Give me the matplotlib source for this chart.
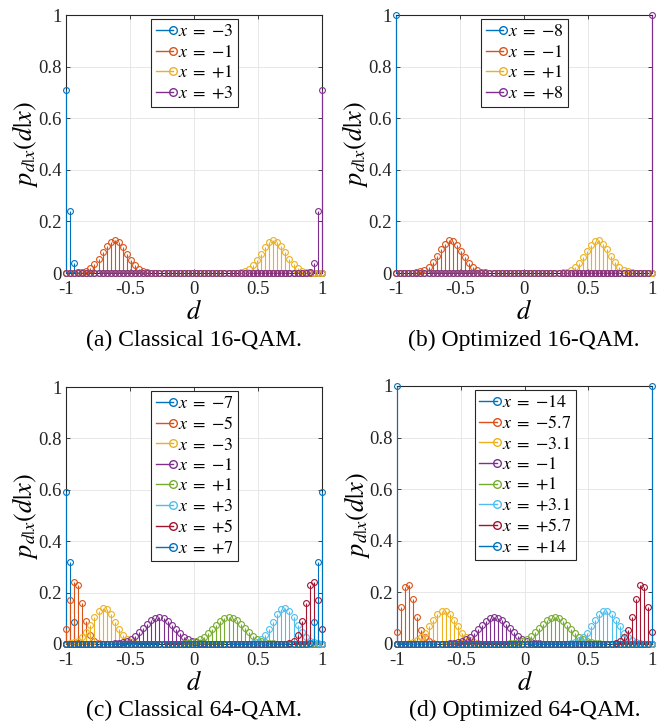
import numpy as np
import matplotlib
matplotlib.use("Agg")
import matplotlib.pyplot as plt
from matplotlib.lines import Line2D
from matplotlib.legend_handler import HandlerBase

plt.rcParams['font.family'] = ['Liberation Serif', 'DejaVu Serif']
plt.rcParams['mathtext.fontset'] = 'stix'

# quantized decision values d (64 levels on [-1, 1])
d = np.linspace(-1, 1, 64)

# (a) classical 16-QAM
a_labels = ['$x\\;=\\;{-3}$', '$x\\;=\\;{-1}$', '$x\\;=\\;{+1}$', '$x\\;=\\;{+3}$']
a_starts = [0, 3, 42, 60]
a_vals = [
    [0.71, 0.24, 0.04, 0.005],
    [0.002, 0.004, 0.009, 0.018, 0.034, 0.055, 0.080, 0.104, 0.121, 0.127,
     0.119, 0.099, 0.075, 0.050, 0.030, 0.016, 0.008, 0.003, 0.001],
    [0.001, 0.003, 0.008, 0.016, 0.030, 0.050, 0.075, 0.099, 0.119, 0.127,
     0.121, 0.104, 0.080, 0.055, 0.034, 0.018, 0.009, 0.004, 0.002],
    [0.005, 0.04, 0.24, 0.71],
]

# (b) optimized 16-QAM
b_labels = ['$x\\;=\\;{-8}$', '$x\\;=\\;{-1}$', '$x\\;=\\;{+1}$', '$x\\;=\\;{+8}$']
b_starts = [0, 4, 41, 63]
b_vals = [
    [1.0],
    [0.001, 0.003, 0.006, 0.013, 0.025, 0.043, 0.067, 0.092, 0.114, 0.126,
     0.125, 0.110, 0.087, 0.062, 0.039, 0.022, 0.011, 0.005, 0.002],
    [0.002, 0.005, 0.011, 0.022, 0.039, 0.062, 0.087, 0.110, 0.125, 0.126,
     0.114, 0.092, 0.067, 0.043, 0.025, 0.013, 0.006, 0.003, 0.001],
    [1.0],
]

# (c) classical 64-QAM
c_labels = ['$x\\;=\\;{-7}$', '$x\\;=\\;{-5}$', '$x\\;=\\;{-3}$', '$x\\;=\\;{-1}$',
            '$x\\;=\\;{+1}$', '$x\\;=\\;{+3}$', '$x\\;=\\;{+5}$', '$x\\;=\\;{+7}$']
c_starts = [0, 0, 0, 12, 29, 45, 55, 60]
c_vals = [
    [0.59, 0.32, 0.085, 0.005],
    [0.06, 0.17, 0.24, 0.23, 0.16, 0.09, 0.035, 0.012, 0.003],
    [0.001, 0.002, 0.006, 0.013, 0.027, 0.047, 0.075, 0.104, 0.128, 0.140,
     0.135, 0.115, 0.086, 0.058, 0.034, 0.018, 0.008, 0.003, 0.001],
    [0.002, 0.004, 0.007, 0.012, 0.020, 0.032, 0.046, 0.062, 0.079, 0.093,
     0.102, 0.105, 0.101, 0.090, 0.075, 0.059, 0.043, 0.029, 0.018, 0.011,
     0.006, 0.003, 0.002],
    [0.002, 0.003, 0.006, 0.011, 0.018, 0.029, 0.043, 0.059, 0.075, 0.090,
     0.101, 0.105, 0.102, 0.093, 0.079, 0.062, 0.046, 0.032, 0.020, 0.012,
     0.007, 0.004, 0.002],
    [0.001, 0.003, 0.008, 0.018, 0.034, 0.058, 0.086, 0.115, 0.135, 0.140,
     0.128, 0.104, 0.075, 0.047, 0.027, 0.013, 0.006, 0.002, 0.001],
    [0.003, 0.012, 0.035, 0.09, 0.16, 0.23, 0.24, 0.17, 0.06],
    [0.005, 0.085, 0.32, 0.59],
]

# (d) optimized 64-QAM
d_labels = ['$x\\;=\\;{-14}$', '$x\\;=\\;{-5.7}$', '$x\\;=\\;{-3.1}$',
            '$x\\;=\\;{-1}$', '$x\\;=\\;{+1}$', '$x\\;=\\;{+3.1}$',
            '$x\\;=\\;{+5.7}$', '$x\\;=\\;{+14}$']
d_starts = [0, 0, 2, 13, 28, 42, 54, 63]
d_vals = [
    [1.0],
    [0.047, 0.143, 0.222, 0.230, 0.174, 0.105, 0.055, 0.027, 0.010, 0.003],
    [0.001, 0.003, 0.007, 0.014, 0.026, 0.044, 0.068, 0.093, 0.115, 0.128,
     0.128, 0.115, 0.093, 0.068, 0.044, 0.026, 0.014, 0.007, 0.003, 0.001],
    [0.002, 0.003, 0.006, 0.011, 0.018, 0.029, 0.043, 0.059, 0.075, 0.090,
     0.101, 0.105, 0.102, 0.093, 0.079, 0.062, 0.046, 0.032, 0.020, 0.012,
     0.007, 0.004, 0.002],
    [0.002, 0.004, 0.007, 0.012, 0.020, 0.032, 0.046, 0.062, 0.079, 0.093,
     0.102, 0.105, 0.101, 0.090, 0.075, 0.059, 0.043, 0.029, 0.018, 0.011,
     0.006, 0.003, 0.002],
    [0.001, 0.003, 0.007, 0.014, 0.026, 0.044, 0.068, 0.093, 0.115, 0.128,
     0.128, 0.115, 0.093, 0.068, 0.044, 0.026, 0.014, 0.007, 0.003, 0.001],
    [0.003, 0.010, 0.027, 0.055, 0.105, 0.174, 0.230, 0.222, 0.143, 0.047],
    [1.0],
]

captions = ['(a) Classical 16-QAM.', '(b) Optimized 16-QAM.',
            '(c) Classical 64-QAM.', '(d) Optimized 64-QAM.']

# matlab default color order
colors = ['#0072BD', '#D95319', '#EDB120', '#7E2F8E',
          '#77AC30', '#4DBEEE', '#A2142F', '#0072BD']


class StemHandler(HandlerBase):
    # legend icon like matlab stem: line with circle at the right end
    def create_artists(self, legend, orig_handle, xdescent, ydescent,
                       width, height, fontsize, trans):
        c = orig_handle.get_color()
        y = (height - ydescent) / 2.0
        ln = Line2D([-xdescent, -xdescent + width], [y, y], color=c, lw=1.0,
                    transform=trans)
        mk = Line2D([-xdescent + width], [y], marker='o', ms=5.5, mfc='none',
                    mec=c, mew=1.0, ls='none', transform=trans)
        return [ln, mk]


def full(start, vals):
    y = np.zeros(len(d))
    y[start:start + len(vals)] = vals
    return y


def draw(ax, labels, starts, vals):
    handles = []
    for i, (lab, st, v) in enumerate(zip(labels, starts, vals)):
        c = colors[i]
        ml, sl, bl = ax.stem(d, full(st, v), basefmt=' ')
        sl.set_color(c)
        sl.set_linewidth(0.8)
        sl.set_clip_on(False)
        sl.set_zorder(3)
        ml.set_marker('o')
        ml.set_markersize(4.2)
        ml.set_markerfacecolor('none')
        ml.set_markeredgecolor(c)
        ml.set_markeredgewidth(0.8)
        ml.set_clip_on(False)
        ml.set_zorder(3)
        bl.set_visible(False)
        handles.append(Line2D([], [], color=c))
    ax.axhline(0, color='k', lw=0.8, zorder=2.8)
    ax.set_xlim(-1, 1)
    ax.set_ylim(0, 1)
    ax.set_xticks([-1, -0.5, 0, 0.5, 1])
    ax.set_xticklabels(['-1', '-0.5', '0', '0.5', '1'])
    ax.set_yticks([0, 0.2, 0.4, 0.6, 0.8, 1])
    ax.set_yticklabels(['0', '0.2', '0.4', '0.6', '0.8', '1'])
    ax.tick_params(direction='in', top=True, right=True, length=3,
                   width=0.6, labelsize=13.5, colors='#262626')
    ax.tick_params(axis='x', pad=6)
    ax.tick_params(axis='y', pad=3)
    ax.grid(True, color='#e3e3e3', lw=0.6)
    ax.set_axisbelow(True)
    for s in ax.spines.values():
        s.set_color('#262626')
        s.set_linewidth(0.8)
    ax.set_xlabel('$d$', fontsize=19)
    ax.xaxis.set_label_coords(0.5, -0.105)
    ax.set_ylabel('$p_{d|x}(d|x)$', fontsize=19)
    ax.yaxis.set_label_coords(-0.10, 0.5)
    leg = ax.legend(handles, labels, handler_map={Line2D: StemHandler()},
                    loc='upper center', bbox_to_anchor=(0.503, 0.985),
                    fontsize=13, handlelength=0.95, handletextpad=0.3,
                    labelspacing=0.2, borderpad=0.25, borderaxespad=0,
                    fancybox=False, framealpha=1, edgecolor='#262626')
    leg.get_frame().set_linewidth(0.8)


W, H = 657, 721
fig = plt.figure(figsize=(W / 100, H / 100), dpi=100)

# axes boxes in pixels (left, top, right, bottom)
boxes = [(66, 15, 322, 273), (396, 15, 652, 273),
         (66, 387, 322, 644), (397, 386, 652, 644)]
data = [(a_labels, a_starts, a_vals), (b_labels, b_starts, b_vals),
        (c_labels, c_starts, c_vals), (d_labels, d_starts, d_vals)]
cap_y = [340, 340, 710, 710]

for box, dat, cap, cy in zip(boxes, data, captions, cap_y):
    l, t, r, b = box
    ax = fig.add_axes([l / W, 1 - b / H, (r - l) / W, (b - t) / H])
    draw(ax, *dat)
    fig.text((l + r) / 2 / W, 1 - cy / H, cap, ha='center', va='center',
             fontsize=17)

fig.savefig('out.png', dpi=100)
